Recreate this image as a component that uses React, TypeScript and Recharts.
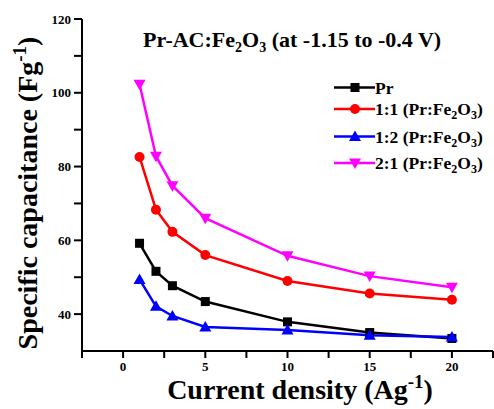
import React from 'react';
import { LineChart, Line, XAxis, YAxis } from 'recharts';

const currentDensity = [1, 2, 3, 5, 10, 15, 20];
const prValues = [59.2, 51.6, 47.7, 43.4, 37.9, 35.0, 33.4];
const r11Values = [82.6, 68.3, 62.3, 56.0, 49.0, 45.6, 43.9];
const r12Values = [49.4, 42.1, 39.5, 36.5, 35.7, 34.3, 33.8];
const r21Values = [102.3, 82.8, 74.8, 66.0, 55.8, 50.3, 47.3];

const xTicks = [-2.5, 0, 2.5, 5, 7.5, 10, 12.5, 15, 17.5, 20, 22.5];
const yTicks = [40, 50, 60, 70, 80, 90, 100, 110, 120];

const FONT = "'Liberation Serif', 'Times New Roman', serif";

type Shape = 'square' | 'circle' | 'up' | 'down';

const seriesDefs: { key: string; ratio: string; color: string; shape: Shape; values: number[] }[] = [
  { key: 'pr', ratio: 'Pr', color: '#000000', shape: 'square', values: prValues },
  { key: 'r11', ratio: '1:1', color: '#ff0000', shape: 'circle', values: r11Values },
  { key: 'r12', ratio: '1:2', color: '#0000ff', shape: 'up', values: r12Values },
  { key: 'r21', ratio: '2:1', color: '#ff00ff', shape: 'down', values: r21Values },
];

const data = currentDensity.map((x, i) => {
  const row: Record<string, number> = { x };
  seriesDefs.forEach((s) => {
    row[s.key] = s.values[i];
  });
  return row;
});

function Marker({ cx, cy, shape, color }: { cx: number; cy: number; shape: Shape; color: string }) {
  if (shape === 'square') {
    return <rect x={cx - 4.5} y={cy - 4.5} width={9} height={9} fill={color} />;
  }
  if (shape === 'circle') {
    return <circle cx={cx} cy={cy} r={5} fill={color} />;
  }
  if (shape === 'up') {
    return <polygon points={`${cx},${cy - 6} ${cx - 6},${cy + 4.5} ${cx + 6},${cy + 4.5}`} fill={color} />;
  }
  return <polygon points={`${cx},${cy + 6} ${cx - 6},${cy - 4.5} ${cx + 6},${cy - 4.5}`} fill={color} />;
}

const makeDot = (shape: Shape, color: string) => (props: any) => {
  const { cx, cy, index } = props;
  if (cx == null || cy == null) return <g key={index} />;
  return (
    <g key={index}>
      <Marker cx={cx} cy={cy} shape={shape} color={color} />
    </g>
  );
};

const tickText = { fill: '#000', fontSize: 13, fontWeight: 'bold' as const, fontFamily: FONT };

const XTick = (props: any) => {
  const { x, y, payload } = props;
  const v = payload.value as number;
  if (!(v >= 0 && v % 5 === 0)) return <g />;
  return (
    <text x={x} y={y} dy="0.71em" textAnchor="middle" {...tickText}>
      {String(v)}
    </text>
  );
};

const YTick = (props: any) => {
  const { x, y, payload } = props;
  const v = payload.value as number;
  if (v % 20 !== 0) return <g />;
  return (
    <text x={x} y={y} dy="0.355em" textAnchor="end" {...tickText}>
      {String(v)}
    </text>
  );
};

const legendRowsY = [87.5, 109, 136.5, 163];

export default function App() {
  return (
    <div style={{ position: 'absolute', left: 0, top: 0, width: 494, height: 409, background: '#fff' }}>
      <LineChart width={494} height={409} data={data} margin={{ top: 19, right: 1, bottom: 0, left: 0 }}>
        <XAxis
          xAxisId="bottom"
          dataKey="x"
          type="number"
          domain={[-2.5, 22.5]}
          ticks={xTicks}
          interval={0}
          height={58}
          tickSize={7}
          tickMargin={4}
          axisLine={{ stroke: '#000', strokeWidth: 2 }}
          tickLine={{ stroke: '#000', strokeWidth: 2 }}
          tick={<XTick />}
          allowDataOverflow
        />
        <XAxis
          xAxisId="top"
          orientation="top"
          type="number"
          domain={[-2.5, 22.5]}
          height={0}
          tick={false}
          tickLine={false}
          axisLine={{ stroke: '#000', strokeWidth: 2 }}
        />
        <YAxis
          yAxisId="left"
          type="number"
          domain={[30, 120]}
          ticks={yTicks}
          interval={0}
          width={82}
          tickSize={8}
          tickMargin={3}
          axisLine={{ stroke: '#000', strokeWidth: 2 }}
          tickLine={{ stroke: '#000', strokeWidth: 2 }}
          tick={<YTick />}
          allowDataOverflow
        />
        <YAxis
          yAxisId="right"
          orientation="right"
          type="number"
          domain={[30, 120]}
          width={0}
          tick={false}
          tickLine={false}
          axisLine={{ stroke: '#000', strokeWidth: 2 }}
        />
        {seriesDefs.map((s) => (
          <Line
            key={s.key}
            xAxisId="bottom"
            yAxisId="left"
            dataKey={s.key}
            stroke={s.color}
            strokeWidth={2.5}
            dot={makeDot(s.shape, s.color)}
            activeDot={false}
            isAnimationActive={false}
          />
        ))}
      </LineChart>
      <svg
        width={494}
        height={409}
        style={{ position: 'absolute', left: 0, top: 0, pointerEvents: 'none' }}
        fontFamily={FONT}
        fontWeight="bold"
      >
        <text x={143} y={47} fontSize={22} fill="#000">
          Pr-AC:Fe<tspan fontSize={14} dy={5}>2</tspan>
          <tspan dy={-5}>O</tspan>
          <tspan fontSize={14} dy={5}>3</tspan>
          <tspan dy={-5}>{' (at -1.15 to -0.4 V)'}</tspan>
        </text>
        <text x={300} y={399} fontSize={28} textAnchor="middle" fill="#000">
          Current density (Ag<tspan fontSize={19} dy={-11}>-1</tspan>
          <tspan dy={11}>)</tspan>
        </text>
        <text transform="translate(37,193) rotate(-90)" x={0} y={0} fontSize={28} textAnchor="middle" fill="#000">
          Specific capacitance (Fg<tspan fontSize={19} dy={-11}>-1</tspan>
          <tspan dy={11}>)</tspan>
        </text>
        {seriesDefs.map((s, i) => {
          const y = legendRowsY[i];
          return (
            <g key={s.key}>
              <line x1={334} x2={375} y1={y} y2={y} stroke={s.color} strokeWidth={2.5} />
              <Marker cx={355} cy={y} shape={s.shape} color={s.color} />
              <text x={375} y={y + 6} fontSize={17.5} fill="#000">
                {s.ratio === 'Pr' ? (
                  'Pr'
                ) : (
                  <>
                    {s.ratio + ' (Pr:Fe'}
                    <tspan fontSize={12} dy={4}>2</tspan>
                    <tspan dy={-4}>O</tspan>
                    <tspan fontSize={12} dy={4}>3</tspan>
                    <tspan dy={-4}>)</tspan>
                  </>
                )}
              </text>
            </g>
          );
        })}
      </svg>
    </div>
  );
}
